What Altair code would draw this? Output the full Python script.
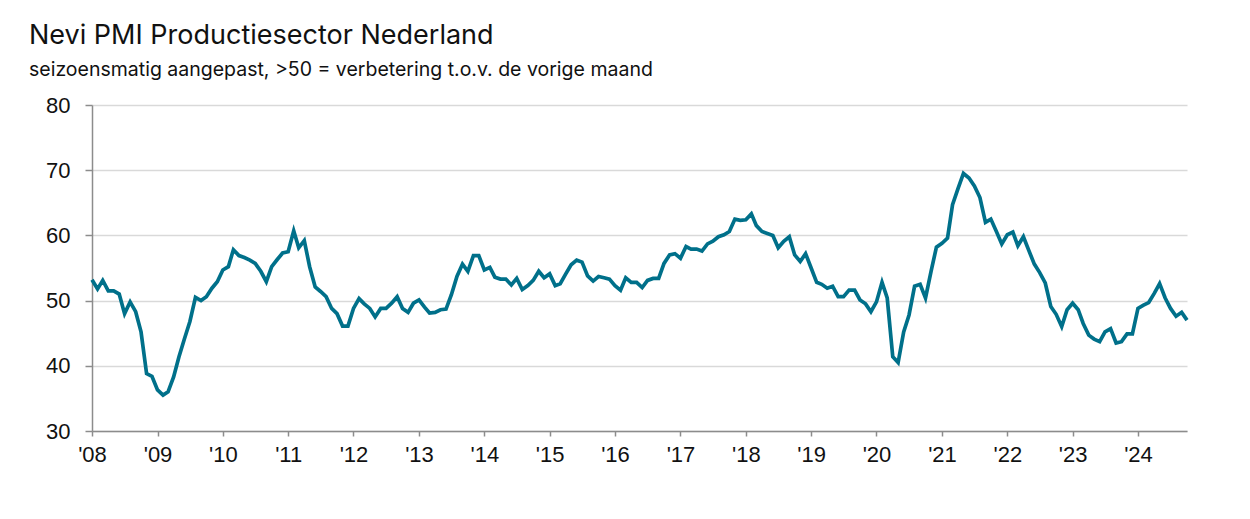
import altair as alt
import pandas as pd

pmi_2008 = [53.2, 51.8, 53.1, 51.5, 51.5, 51.0, 48.0, 49.8, 48.3, 45.2, 38.8, 38.4]
pmi_2009 = [36.3, 35.5, 36.0, 38.3, 41.4, 44.2, 46.8, 50.5, 50.0, 50.6, 51.9, 52.9]
pmi_2010 = [54.7, 55.2, 57.8, 56.9, 56.6, 56.2, 55.7, 54.5, 52.9, 55.2, 56.3, 57.3]
pmi_2011 = [57.5, 60.7, 58.1, 59.2, 55.2, 52.1, 51.4, 50.6, 48.8, 48.0, 46.1, 46.1]
pmi_2012 = [48.8, 50.3, 49.5, 48.8, 47.5, 48.8, 48.8, 49.6, 50.6, 48.8, 48.2, 49.6]
pmi_2013 = [50.1, 49.0, 48.1, 48.2, 48.6, 48.7, 50.9, 53.7, 55.6, 54.5, 56.9, 56.9]
pmi_2014 = [54.7, 55.1, 53.6, 53.3, 53.3, 52.4, 53.4, 51.7, 52.3, 53.1, 54.5, 53.5]
pmi_2015 = [54.1, 52.3, 52.6, 54.1, 55.5, 56.2, 55.9, 53.8, 53.0, 53.7, 53.5, 53.3]
pmi_2016 = [52.3, 51.6, 53.5, 52.8, 52.8, 52.0, 53.1, 53.4, 53.4, 55.7, 57.0, 57.2]
pmi_2017 = [56.5, 58.3, 57.9, 57.9, 57.6, 58.7, 59.1, 59.8, 60.1, 60.6, 62.5, 62.3]
pmi_2018 = [62.4, 63.3, 61.5, 60.6, 60.3, 60.0, 58.1, 59.1, 59.8, 57.0, 56.0, 57.2]
pmi_2019 = [55.0, 52.8, 52.5, 51.9, 52.2, 50.6, 50.6, 51.6, 51.6, 50.1, 49.5, 48.3]
pmi_2020 = [49.8, 52.8, 50.4, 41.4, 40.5, 45.2, 47.8, 52.2, 52.5, 50.4, 54.5, 58.2]
pmi_2021 = [58.8, 59.6, 64.7, 67.2, 69.5, 68.8, 67.6, 65.8, 62.0, 62.5, 60.6, 58.7]
pmi_2022 = [60.1, 60.5, 58.4, 59.8, 57.7, 55.6, 54.3, 52.7, 49.1, 47.9, 46.0, 48.6]
pmi_2023 = [49.6, 48.6, 46.5, 44.7, 44.1, 43.7, 45.2, 45.7, 43.5, 43.7, 44.9, 44.9]
pmi_2024 = [48.8, 49.3, 49.7, 51.1, 52.6, 50.4, 48.8, 47.6, 48.2, 47.0]

years = list(range(2008, 2025))
series = [pmi_2008, pmi_2009, pmi_2010, pmi_2011, pmi_2012, pmi_2013, pmi_2014,
          pmi_2015, pmi_2016, pmi_2017, pmi_2018, pmi_2019, pmi_2020, pmi_2021,
          pmi_2022, pmi_2023, pmi_2024]

rows = []
for yr, vals in zip(years, series):
    for m, v in enumerate(vals):
        rows.append({"date": f"{yr}-{m + 1:02d}-01", "pmi": v})
df = pd.DataFrame(rows)

title_text = "Nevi PMI Productiesector Nederland"
subtitle_text = "seizoensmatig aangepast, >50 = verbetering t.o.v. de vorige maand"

chart = alt.Chart(df).mark_line(color="#00708a", strokeWidth=3.7, strokeJoin="miter").encode(
    x=alt.X("date:T",
            scale=alt.Scale(domain=["2008-01-01", "2024-10-01"], nice=False),
            axis=alt.Axis(format="'%y", tickCount={"interval": "year", "step": 1},
                          title=None, grid=False, labelFontSize=22, labelColor="#111111",
                          labelFont="Liberation Sans", labelPadding=8,
                          tickSize=5, tickColor="#8c8c8c", tickWidth=1.5,
                          domainColor="#8c8c8c", domainWidth=1.5, labelFlush=False)),
    y=alt.Y("pmi:Q",
            scale=alt.Scale(domain=[30, 80], nice=False, zero=False),
            axis=alt.Axis(values=[30, 40, 50, 60, 70, 80], title=None,
                          labelFontSize=22, labelColor="#111111", labelFont="Liberation Sans",
                          labelPadding=15, tickSize=7, tickColor="#8c8c8c", tickWidth=1.5,
                          domainColor="#8c8c8c", domainWidth=1.5,
                          grid=True, gridColor="#d9d9d9", gridWidth=1.5)),
).properties(
    width=1095,
    height=326,
    title=alt.TitleParams(text=title_text, subtitle=subtitle_text, anchor="start",
                          frame="group", dx=-63, offset=14,
                          font="Inter", fontSize=27, fontWeight="normal", color="#111111",
                          subtitleFont="Inter", subtitleFontSize=19.5, subtitleColor="#111111",
                          subtitlePadding=11),
    autosize=alt.AutoSizeParams(type="none"),
    padding={"left": 84, "top": 97, "right": 40, "bottom": 40},
).configure_view(stroke=None)

chart.save("out.html", embed_options={"renderer": "svg", "actions": False})
